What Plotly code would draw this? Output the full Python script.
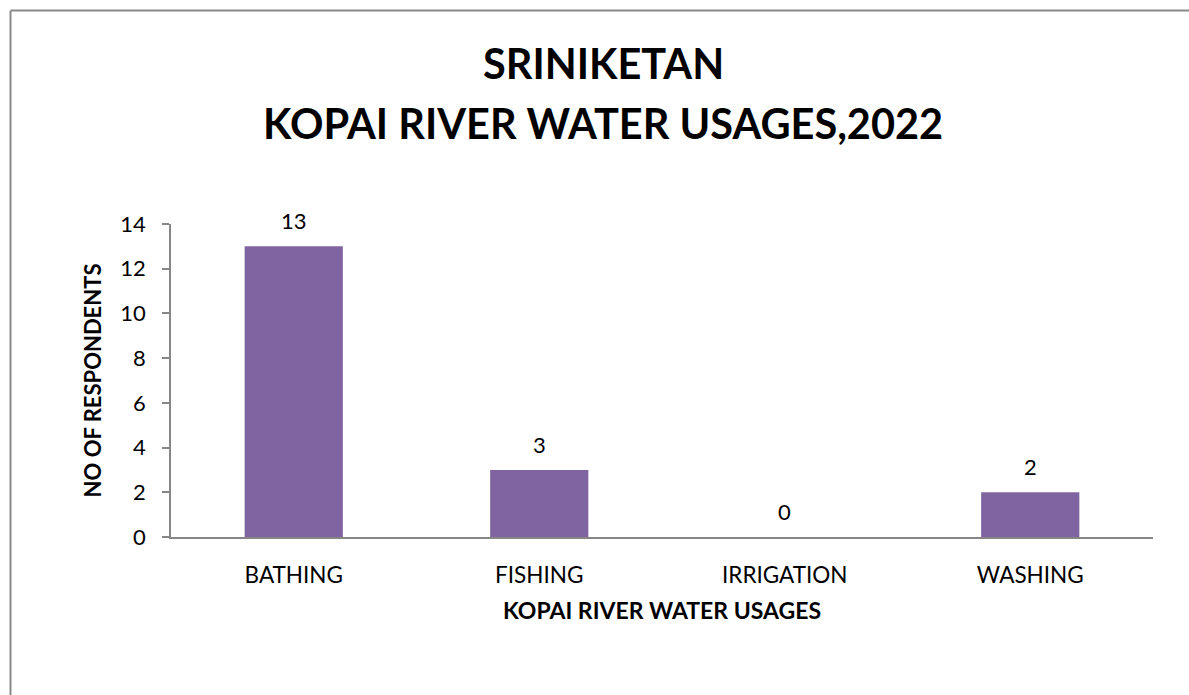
import plotly.graph_objects as go

# Survey of Kopai river water usage at Sriniketan, 2022
usages = ["BATHING", "FISHING", "IRRIGATION", "WASHING"]
respondents = [13, 3, 0, 2]
y_ticks = [0, 2, 4, 6, 8, 10, 12, 14]
title_lines = ["SRINIKETAN", "KOPAI RIVER WATER USAGES,2022"]

BAR_COLOR = "#8064A2"
AXIS_COLOR = "#868686"
FONT = "Lato"

W, H = 1189, 695
L, R, T, B = 171, 36, 224, 158
pw, ph = W - L - R, H - T - B


def px_to_paper_x(px):
    return (px - L) / pw


def px_to_paper_y(py):
    return (H - B - py) / ph


fig = go.Figure(
    go.Bar(
        x=usages,
        y=respondents,
        marker=dict(color=BAR_COLOR, line=dict(width=0)),
        width=0.4,
        hoverinfo="x+y",
    )
)

# value labels above each bar
for cat, val in zip(usages, respondents):
    fig.add_annotation(
        x=cat, y=val, text=str(val), showarrow=False,
        yanchor="bottom", yshift=10,
        font=dict(family=FONT, size=22, color="#000000"),
    )

# two-line chart heading
for line, cy in zip(title_lines, [63, 123]):
    fig.add_annotation(
        x=px_to_paper_x(603), y=px_to_paper_y(cy), xref="paper", yref="paper",
        text=f"<b>{line}</b>", showarrow=False,
        xanchor="center", yanchor="middle",
        font=dict(family=FONT, size=41.5, color="#000000"),
    )

# chart frame (top and left edges visible)
frame_x0, frame_y0 = px_to_paper_x(10.5), px_to_paper_y(10.5)
frame_x1, frame_y1 = px_to_paper_x(W + 5), px_to_paper_y(H + 5)
fig.add_shape(type="line", xref="paper", yref="paper",
              x0=frame_x0, y0=frame_y0, x1=frame_x1, y1=frame_y0,
              line=dict(color="#898989", width=2))
fig.add_shape(type="line", xref="paper", yref="paper",
              x0=frame_x0, y0=frame_y0, x1=frame_x0, y1=frame_y1,
              line=dict(color="#898989", width=2))

fig.update_layout(
    width=W, height=H,
    margin=dict(l=L, r=R, t=T, b=B, autoexpand=False),
    paper_bgcolor="white", plot_bgcolor="white",
    showlegend=False,
    font=dict(family=FONT, color="#000000"),
    xaxis=dict(
        type="category",
        showline=True, linecolor=AXIS_COLOR, linewidth=1.5,
        ticks="", showgrid=False,
        tickfont=dict(family=FONT, size=22.5),
        ticklabelstandoff=17,
        title=dict(text="<b>KOPAI RIVER WATER USAGES</b>",
                   font=dict(family=FONT, size=23), standoff=16),
        fixedrange=True,
    ),
    yaxis=dict(
        range=[0, 14], tickvals=y_ticks,
        showline=True, linecolor=AXIS_COLOR, linewidth=1.5,
        ticks="outside", ticklen=7, tickcolor=AXIS_COLOR, tickwidth=1.5,
        showgrid=False, zeroline=False,
        tickfont=dict(family=FONT, size=22),
        ticklabelstandoff=12,
        title=dict(text="<b>NO OF RESPONDENTS</b>",
                   font=dict(family=FONT, size=22), standoff=13),
        fixedrange=True,
    ),
)

fig.write_html("out.html")
